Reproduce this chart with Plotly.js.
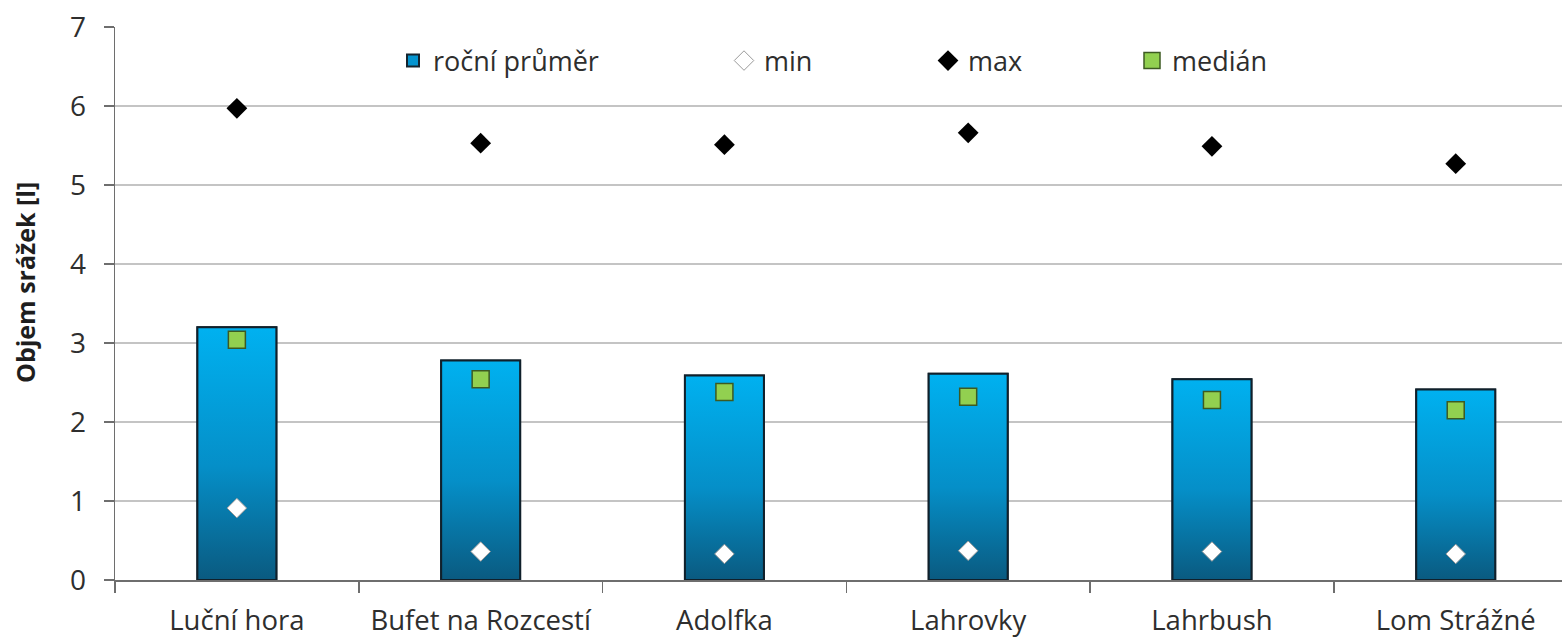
<!DOCTYPE html>
<html><head><meta charset="utf-8">
<script src="https://cdn.plot.ly/plotly-3.0.1.min.js"></script>
<style>html,body{margin:0;padding:0;background:#fff;overflow:hidden}#chart{width:1562px;height:637px}</style>
</head><body><div id="chart"></div>
<script>
var categories = ["Luční hora", "Bufet na Rozcestí", "Adolfka", "Lahrovky", "Lahrbush", "Lom Strážné"];
var rocniPrumer = [3.20, 2.78, 2.59, 2.61, 2.54, 2.41];
var minValues   = [0.91, 0.36, 0.33, 0.37, 0.36, 0.33];
var maxValues   = [5.97, 5.53, 5.51, 5.66, 5.49, 5.27];
var medianValues= [3.04, 2.54, 2.38, 2.32, 2.28, 2.15];
var yTicks = [0, 1, 2, 3, 4, 5, 6, 7];
var yTitle = "Objem srážek [l]";

var idx = categories.map(function(_, i){ return i; });
var barW = 0.324;
var FONT = "'Open Sans', Lato, sans-serif";
var TXT = "#2e2e2e";

var traces = [];
traces.push({
  type: "bar", x: idx, y: rocniPrumer, width: barW, name: "roční průměr",
  marker: {color: "#0494cf", line: {color: "#14242f", width: 2}},
  legend: "legend", hoverinfo: "y"
});
rocniPrumer.forEach(function(v, i){
  var l = i - barW/2, r = i + barW/2;
  traces.push({
    type: "scatter", mode: "lines", x: [l, r, r, l, l], y: [0, 0, v, v, 0],
    fill: "toself",
    fillgradient: {type: "vertical", colorscale: [[0, "#0a5a80"], [0.45, "#058fc8"], [1, "#00b1f0"]]},
    line: {color: "#10202b", width: 2}, showlegend: false, hoverinfo: "skip"
  });
});
traces.push({
  type: "scatter", mode: "markers", x: idx, y: minValues, name: "min",
  marker: {symbol: "diamond", size: 15, color: "#ffffff", line: {color: "#9a9a9a", width: 1}},
  legend: "legend2"
});
traces.push({
  type: "scatter", mode: "markers", x: idx, y: maxValues, name: "max",
  marker: {symbol: "diamond", size: 16, color: "#000000", line: {color: "#000000", width: 0}},
  legend: "legend3"
});
traces.push({
  type: "scatter", mode: "markers", x: idx, y: medianValues, name: "medián",
  marker: {symbol: "square", size: 17, color: "#92d050", line: {color: "#3d5a22", width: 1.5}},
  legend: "legend4"
});

var plotL = 115, plotW = 1447, plotT = 27, plotH = 553;
function px2paper(px){ return (px - plotL) / plotW; }
function py2paper(py){ return 1 - (py - plotT) / plotH; }
function leg(centerPx){
  return {x: px2paper(centerPx - 21), xanchor: "left", y: py2paper(61), yanchor: "middle",
          bgcolor: "rgba(0,0,0,0)", borderwidth: 0, font: {family: FONT, size: 27, color: TXT},
          orientation: "h", itemclick: false};
}

var layout = {
  width: 1562, height: 637,
  margin: {l: plotL, r: 0, t: plotT, b: 637 - plotT - plotH, pad: 0},
  paper_bgcolor: "#ffffff", plot_bgcolor: "#ffffff",
  showlegend: true, barmode: "overlay",
  legend: leg(414), legend2: leg(745), legend3: leg(949), legend4: leg(1153),
  xaxis: {
    range: [-0.5, 5.436], tickvals: idx, ticktext: categories, ticks: "",
    showline: true, linecolor: "#6e6e6e", linewidth: 1.5, showgrid: false, zeroline: false,
    tickfont: {family: FONT, size: 27.5, color: TXT}, ticklabelstandoff: 15,
    minor: {tick0: 0.5, dtick: 1, ticks: "outside", ticklen: 11, tickcolor: "#6e6e6e", tickwidth: 1.5, showgrid: false}
  },
  yaxis: {
    range: [0, 7], tickvals: yTicks, ticks: "outside", ticklen: 10, tickcolor: "#6e6e6e", tickwidth: 1.5,
    showline: true, linecolor: "#6e6e6e", linewidth: 1.5, zeroline: false,
    showgrid: true, gridcolor: "#c4c4c4", gridwidth: 1.5,
    tickfont: {family: FONT, size: 28, color: TXT}, ticklabelstandoff: 12
  },
  annotations: [{
    text: "<b>" + yTitle + "</b>", textangle: -90, showarrow: false,
    xref: "paper", yref: "paper", x: px2paper(25), y: py2paper(283),
    xanchor: "center", yanchor: "middle",
    font: {family: FONT, size: 25, color: "#1e1e1e"}
  }]
};
Plotly.newPlot("chart", traces, layout, {displayModeBar: false, staticPlot: true});
</script></body></html>
